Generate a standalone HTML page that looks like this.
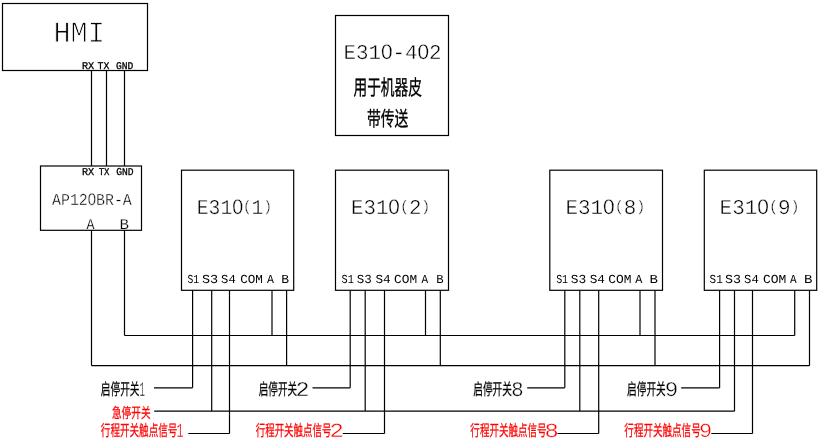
<!DOCTYPE html>
<html lang="zh-CN">
<head>
<meta charset="utf-8">
<title>E310 wiring diagram</title>
<style>
html,body{margin:0;padding:0;background:#fff;}
body{width:822px;height:439px;overflow:hidden;}
svg{display:block;will-change:transform;}
.w line,.w rect{stroke:#000;stroke-width:1.2;fill:none;}
text{stroke-linejoin:round;text-rendering:geometricPrecision;}
.m{font-family:"Liberation Mono", "DejaVu Sans Mono", monospace;}
.z{font-family:"Liberation Sans", "DejaVu Sans", sans-serif;}
.c{font-family:"Liberation Sans", "Noto Sans CJK SC", "WenQuanYi Zen Hei", sans-serif;}
</style>
</head>
<body>
<svg width="822" height="439" viewBox="0 0 822 439">
<rect x="0" y="0" width="822" height="439" fill="#fff"/>
<g class="t">
<text id="t0" class="m" x="53.48" y="42" font-size="29.74" textLength="51.41" lengthAdjust="spacingAndGlyphs" stroke="#fff" stroke-width="0.9">HMI</text>
<text id="t1" class="m" x="81.98" y="69" font-size="10.3" textLength="12.27" lengthAdjust="spacingAndGlyphs" stroke="#000" stroke-width="0.3">RX</text>
<text id="t2" class="m" x="97.48" y="69" font-size="10.3" textLength="11.84" lengthAdjust="spacingAndGlyphs" stroke="#000" stroke-width="0.3">TX</text>
<text id="t3" class="m" x="116.04" y="69" font-size="10.3" textLength="17.37" lengthAdjust="spacingAndGlyphs" stroke="#000" stroke-width="0.3">GND</text>
<text id="t4" class="m" x="81.98" y="175" font-size="10.45" textLength="12.24" lengthAdjust="spacingAndGlyphs" stroke="#000" stroke-width="0.3">RX</text>
<text id="t5" class="m" x="98.68" y="175" font-size="10.45" textLength="10.83" lengthAdjust="spacingAndGlyphs" stroke="#000" stroke-width="0.3">TX</text>
<text id="t6" class="m" x="116.15" y="175" font-size="10.45" textLength="17.39" lengthAdjust="spacingAndGlyphs" stroke="#000" stroke-width="0.3">GND</text>
<text id="t7" class="m" x="52.01" y="205" font-size="16.67" textLength="79.8" lengthAdjust="spacingAndGlyphs" stroke="#fff" stroke-width="0.35">AP12<tspan class="z">0</tspan>BR-A</text>
<text id="t8" class="m" x="86.51" y="229" font-size="15.0" textLength="8.0" lengthAdjust="spacingAndGlyphs" stroke="#fff" stroke-width="0.2">A</text>
<text id="t9" class="m" x="119.54" y="229" font-size="15.0" textLength="9.53" lengthAdjust="spacingAndGlyphs" stroke="#fff" stroke-width="0.2">B</text>
<text id="t10" class="m" x="343.43" y="59" font-size="21.06" textLength="98.19" lengthAdjust="spacingAndGlyphs" stroke="#fff" stroke-width="0.4">E31<tspan class="z">0</tspan>-4<tspan class="z">0</tspan>2</text>
<text id="t11" class="m" x="196.83" y="214" font-size="21.06" textLength="75.06" lengthAdjust="spacingAndGlyphs" stroke="#fff" stroke-width="0.4">E31<tspan class="z">0</tspan><tspan font-size="15.16" dy="-3.16">(</tspan><tspan dy="3.16">1</tspan><tspan font-size="15.16" dy="-3.16">)</tspan></text>
<text id="t12" class="m" x="350.99" y="214" font-size="21.06" textLength="79.36" lengthAdjust="spacingAndGlyphs" stroke="#fff" stroke-width="0.4">E31<tspan class="z">0</tspan><tspan font-size="15.16" dy="-3.16">(</tspan><tspan dy="3.16">2</tspan><tspan font-size="15.16" dy="-3.16">)</tspan></text>
<text id="t13" class="m" x="565.47" y="214" font-size="21.06" textLength="79.94" lengthAdjust="spacingAndGlyphs" stroke="#fff" stroke-width="0.4">E31<tspan class="z">0</tspan><tspan font-size="15.16" dy="-3.16">(</tspan><tspan dy="3.16">8</tspan><tspan font-size="15.16" dy="-3.16">)</tspan></text>
<text id="t14" class="m" x="719.62" y="214" font-size="21.06" textLength="79.95" lengthAdjust="spacingAndGlyphs" stroke="#fff" stroke-width="0.4">E31<tspan class="z">0</tspan><tspan font-size="15.16" dy="-3.16">(</tspan><tspan dy="3.16">9</tspan><tspan font-size="15.16" dy="-3.16">)</tspan></text>
<text id="t15" class="m" x="187.47" y="283" font-size="12.27" textLength="11.63" lengthAdjust="spacingAndGlyphs">S1</text>
<text id="t16" class="m" x="201.96" y="283" font-size="12.27" textLength="16.22" lengthAdjust="spacingAndGlyphs">S3</text>
<text id="t17" class="m" x="221.09" y="283" font-size="12.27" textLength="14.63" lengthAdjust="spacingAndGlyphs">S4</text>
<text id="t18" class="m" x="240.15" y="283" font-size="12.27" textLength="22.76" lengthAdjust="spacingAndGlyphs">COM</text>
<text id="t19" class="m" x="267.08" y="283" font-size="12.27" textLength="6.92" lengthAdjust="spacingAndGlyphs">A</text>
<text id="t20" class="m" x="281.36" y="283" font-size="12.27" textLength="7.83" lengthAdjust="spacingAndGlyphs">B</text>
<text id="t21" class="m" x="341.47" y="283" font-size="12.27" textLength="12.36" lengthAdjust="spacingAndGlyphs">S1</text>
<text id="t22" class="m" x="356.8" y="283" font-size="12.27" textLength="15.01" lengthAdjust="spacingAndGlyphs">S3</text>
<text id="t23" class="m" x="375.48" y="283" font-size="12.27" textLength="15.25" lengthAdjust="spacingAndGlyphs">S4</text>
<text id="t24" class="m" x="394.13" y="283" font-size="12.27" textLength="23.05" lengthAdjust="spacingAndGlyphs">COM</text>
<text id="t25" class="m" x="421.57" y="283" font-size="12.27" textLength="6.64" lengthAdjust="spacingAndGlyphs">A</text>
<text id="t26" class="m" x="436.31" y="283" font-size="12.27" textLength="7.37" lengthAdjust="spacingAndGlyphs">B</text>
<text id="t27" class="m" x="556.14" y="283" font-size="12.27" textLength="11.97" lengthAdjust="spacingAndGlyphs">S1</text>
<text id="t28" class="m" x="570.85" y="283" font-size="12.27" textLength="15.47" lengthAdjust="spacingAndGlyphs">S3</text>
<text id="t29" class="m" x="589.7" y="283" font-size="12.27" textLength="15.24" lengthAdjust="spacingAndGlyphs">S4</text>
<text id="t30" class="m" x="608.39" y="283" font-size="12.27" textLength="23.26" lengthAdjust="spacingAndGlyphs">COM</text>
<text id="t31" class="m" x="635.16" y="283" font-size="12.27" textLength="7.12" lengthAdjust="spacingAndGlyphs">A</text>
<text id="t32" class="m" x="649.43" y="283" font-size="12.27" textLength="8.44" lengthAdjust="spacingAndGlyphs">B</text>
<text id="t33" class="m" x="709.58" y="283" font-size="12.27" textLength="13.26" lengthAdjust="spacingAndGlyphs">S1</text>
<text id="t34" class="m" x="724.97" y="283" font-size="12.27" textLength="15.98" lengthAdjust="spacingAndGlyphs">S3</text>
<text id="t35" class="m" x="744.09" y="283" font-size="12.27" textLength="14.63" lengthAdjust="spacingAndGlyphs">S4</text>
<text id="t36" class="m" x="762.94" y="283" font-size="12.27" textLength="23.31" lengthAdjust="spacingAndGlyphs">COM</text>
<text id="t37" class="m" x="789.93" y="283" font-size="12.27" textLength="6.65" lengthAdjust="spacingAndGlyphs">A</text>
<text id="t38" class="m" x="804.08" y="283" font-size="12.27" textLength="8.44" lengthAdjust="spacingAndGlyphs">B</text>
<text id="t39" class="c" x="353.53" y="95" font-size="21.13" textLength="68.27" lengthAdjust="spacingAndGlyphs" stroke="#000" stroke-width="0.35">用于机器皮</text>
<text id="t40" class="c" x="367.0" y="126" font-size="20.52" textLength="41.38" lengthAdjust="spacingAndGlyphs" stroke="#000" stroke-width="0.35">带传送</text>
<text id="t41" class="c" x="100.79" y="395" font-size="16.33" textLength="38.69" lengthAdjust="spacingAndGlyphs" stroke="#000" stroke-width="0.25">启停开关</text>
<text id="t42" class="m" x="139.46" y="396" font-size="20.91" textLength="5.34" lengthAdjust="spacingAndGlyphs" stroke="#fff" stroke-width="0.35">1</text>
<text id="t43" class="c" x="258.7" y="395" font-size="16.33" textLength="38.38" lengthAdjust="spacingAndGlyphs" stroke="#000" stroke-width="0.25">启停开关</text>
<text id="t44" class="m" x="295.48" y="396" font-size="20.91" textLength="14.0" lengthAdjust="spacingAndGlyphs" stroke="#fff" stroke-width="0.35">2</text>
<text id="t45" class="c" x="473.27" y="395" font-size="16.33" textLength="38.67" lengthAdjust="spacingAndGlyphs" stroke="#000" stroke-width="0.25">启停开关</text>
<text id="t46" class="m" x="511.22" y="396" font-size="20.91" textLength="12.36" lengthAdjust="spacingAndGlyphs" stroke="#fff" stroke-width="0.35">8</text>
<text id="t47" class="c" x="627.09" y="395" font-size="16.33" textLength="38.7" lengthAdjust="spacingAndGlyphs" stroke="#000" stroke-width="0.25">启停开关</text>
<text id="t48" class="m" x="664.8" y="396" font-size="20.91" textLength="13.48" lengthAdjust="spacingAndGlyphs" stroke="#fff" stroke-width="0.35">9</text>
<text id="t49" class="c" x="111.91" y="418" font-size="14.45" textLength="38.63" lengthAdjust="spacingAndGlyphs" stroke="#f00" stroke-width="0.25" fill="#f00">急停开关</text>
<text id="t50" class="c" x="100.81" y="436" font-size="15.57" textLength="76.61" lengthAdjust="spacingAndGlyphs" stroke="#f00" stroke-width="0.25" fill="#f00">行程开关触点信号</text>
<text id="t51" class="m" x="176.41" y="437" font-size="20.15" textLength="7.1" lengthAdjust="spacingAndGlyphs" stroke="#fff" stroke-width="0.35" fill="#f00">1</text>
<text id="t52" class="c" x="255.69" y="436" font-size="15.57" textLength="75.83" lengthAdjust="spacingAndGlyphs" stroke="#f00" stroke-width="0.25" fill="#f00">行程开关触点信号</text>
<text id="t53" class="m" x="329.62" y="437" font-size="20.15" textLength="14.38" lengthAdjust="spacingAndGlyphs" stroke="#fff" stroke-width="0.35" fill="#f00">2</text>
<text id="t54" class="c" x="470.37" y="436" font-size="15.57" textLength="76.12" lengthAdjust="spacingAndGlyphs" stroke="#f00" stroke-width="0.25" fill="#f00">行程开关触点信号</text>
<text id="t55" class="m" x="544.42" y="437" font-size="20.15" textLength="14.25" lengthAdjust="spacingAndGlyphs" stroke="#fff" stroke-width="0.35" fill="#f00">8</text>
<text id="t56" class="c" x="624.34" y="436" font-size="15.57" textLength="76.36" lengthAdjust="spacingAndGlyphs" stroke="#f00" stroke-width="0.25" fill="#f00">行程开关触点信号</text>
<text id="t57" class="m" x="699.0" y="437" font-size="20.15" textLength="13.14" lengthAdjust="spacingAndGlyphs" stroke="#fff" stroke-width="0.35" fill="#f00">9</text>
</g>
<g class="w">
<rect x="2.5" y="3.5" width="145.0" height="67.0"/>
<rect x="40.5" y="166" width="101.0" height="64.3"/>
<rect x="335.5" y="15.5" width="113.0" height="120.0"/>
<rect x="181.5" y="170.2" width="112.2" height="120.1"/>
<rect x="335.5" y="170.2" width="113.0" height="120.1"/>
<rect x="549.8" y="170.2" width="112.7" height="120.1"/>
<rect x="704.3" y="170.2" width="112.4" height="120.1"/>
<line x1="91.5" y1="70.5" x2="91.5" y2="166"/>
<line x1="106.5" y1="70.5" x2="106.5" y2="166"/>
<line x1="124.5" y1="70.5" x2="124.5" y2="166"/>
<line x1="91.5" y1="230.3" x2="91.5" y2="365.6"/>
<line x1="124.5" y1="230.3" x2="124.5" y2="335.5"/>
<line x1="192.6" y1="290.3" x2="192.6" y2="387.8"/>
<line x1="154.0" y1="387.8" x2="192.6" y2="387.8"/>
<line x1="211.7" y1="290.3" x2="211.7" y2="411.1"/>
<line x1="229.5" y1="290.3" x2="229.5" y2="433.5"/>
<line x1="188.3" y1="433.5" x2="229.5" y2="433.5"/>
<line x1="272.0" y1="290.3" x2="272.0" y2="335.5"/>
<line x1="286.6" y1="290.3" x2="286.6" y2="365.6"/>
<line x1="350.2" y1="290.3" x2="350.2" y2="387.8"/>
<line x1="312.5" y1="387.8" x2="350.2" y2="387.8"/>
<line x1="365.2" y1="290.3" x2="365.2" y2="411.1"/>
<line x1="384.5" y1="290.3" x2="384.5" y2="433.5"/>
<line x1="342.8" y1="433.5" x2="384.5" y2="433.5"/>
<line x1="425.5" y1="290.3" x2="425.5" y2="335.5"/>
<line x1="440.3" y1="290.3" x2="440.3" y2="365.6"/>
<line x1="564.8" y1="290.3" x2="564.8" y2="387.8"/>
<line x1="527.2" y1="387.8" x2="564.8" y2="387.8"/>
<line x1="579.8" y1="290.3" x2="579.8" y2="411.1"/>
<line x1="598.7" y1="290.3" x2="598.7" y2="433.5"/>
<line x1="557.5" y1="433.5" x2="598.7" y2="433.5"/>
<line x1="640.0" y1="290.3" x2="640.0" y2="335.5"/>
<line x1="655.0" y1="290.3" x2="655.0" y2="365.6"/>
<line x1="719.6" y1="290.3" x2="719.6" y2="387.8"/>
<line x1="681.2" y1="387.8" x2="719.6" y2="387.8"/>
<line x1="734.5" y1="290.3" x2="734.5" y2="411.1"/>
<line x1="752.5" y1="290.3" x2="752.5" y2="433.5"/>
<line x1="711.3" y1="433.5" x2="752.5" y2="433.5"/>
<line x1="794.7" y1="290.3" x2="794.7" y2="335.5"/>
<line x1="809.5" y1="290.3" x2="809.5" y2="365.6"/>
<line x1="124.5" y1="335.5" x2="794.7" y2="335.5"/>
<line x1="91.5" y1="365.6" x2="809.5" y2="365.6"/>
<line x1="154.2" y1="411.1" x2="734.5" y2="411.1"/>
</g>
</svg>
</body>
</html>
